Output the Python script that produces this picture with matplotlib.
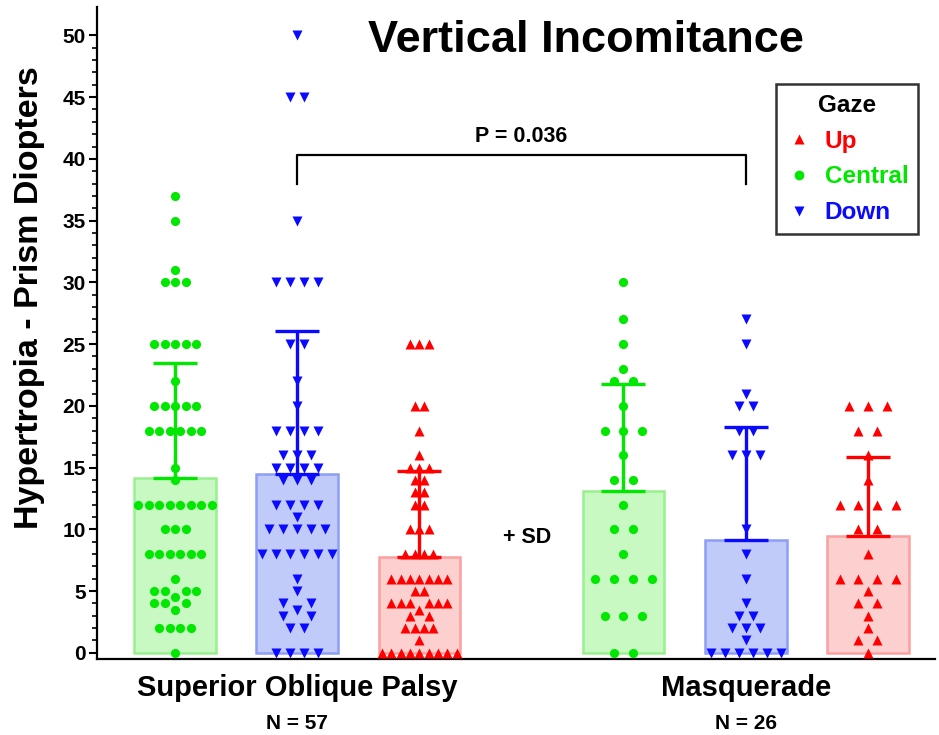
import numpy as np
import matplotlib
matplotlib.use('Agg')
import matplotlib.pyplot as plt
from matplotlib.lines import Line2D

plt.rcParams['font.family'] = ['Liberation Sans', 'DejaVu Sans']
plt.rcParams['font.weight'] = 'bold'

# valores: valor e quantidade de pacientes
sop_central_v = [37, 35, 31, 30, 25, 22, 20, 18, 15, 14, 12, 10, 8, 6, 5, 4.5, 4, 3.5, 2, 0]
sop_central_n = [1, 1, 1, 3, 5, 1, 5, 6, 1, 1, 8, 3, 6, 1, 4, 1, 3, 1, 4, 1]
sop_down_v = [50, 45, 35, 30, 25, 22, 20, 18, 16, 15, 14, 12, 11, 10, 8, 6, 5, 4, 3.5, 3, 2, 0]
sop_down_n = [1, 2, 1, 4, 2, 1, 1, 4, 3, 4, 3, 4, 1, 5, 6, 1, 1, 2, 1, 2, 2, 4]
sop_up_v = [25, 20, 18, 16, 15, 14, 13, 12, 10, 8, 6, 5, 4, 3.5, 3, 2, 1, 0]
sop_up_n = [3, 2, 1, 1, 3, 2, 2, 2, 3, 4, 7, 2, 6, 1, 2, 4, 1, 9]
masq_central_v = [30, 27, 25, 23, 22, 20, 18, 16, 14, 12, 10, 8, 6, 3, 0]
masq_central_n = [1, 1, 1, 1, 2, 1, 3, 1, 2, 1, 2, 1, 4, 3, 2]
masq_down_v = [27, 25, 21, 20, 18, 16, 10, 8, 6, 4, 3, 2, 1, 0]
masq_down_n = [1, 1, 1, 2, 2, 3, 1, 1, 1, 1, 2, 3, 1, 6]
masq_up_v = [20, 18, 16, 14, 12, 10, 8, 6, 5, 4, 3, 2, 1, 0]
masq_up_n = [3, 2, 1, 1, 4, 2, 1, 4, 1, 2, 1, 1, 2, 1]

grupos = ['Superior Oblique Palsy', 'Masquerade']
n_labels = ['N = 57', 'N = 26']
gaze = ['Central', 'Down', 'Up']
p_text = 'P = 0.036'

dados = [
    [np.repeat(sop_central_v, sop_central_n), np.repeat(sop_down_v, sop_down_n), np.repeat(sop_up_v, sop_up_n)],
    [np.repeat(masq_central_v, masq_central_n), np.repeat(masq_down_v, masq_down_n), np.repeat(masq_up_v, masq_up_n)],
]

# estilos
cores = {'Central': '#00e800', 'Down': '#0a0aff', 'Up': '#ff0000'}
preench = {'Central': '#c8f9c2', 'Down': '#c0cbf9', 'Up': '#fdd0d0'}
bordas = {'Central': '#98f08e', 'Down': '#8c9ef5', 'Up': '#fb9f9f'}
marcas = {'Central': 'o', 'Down': 'v', 'Up': '^'}
gap = 3.67
larg = 0.67

fig = plt.figure(figsize=(9.39, 7.35), dpi=100)
ax = fig.add_axes([97/939, 1-659/735, (935-97)/939, (659-7)/735])
ax.set_xlim(-0.64, 6.22)
ax.set_ylim(-0.5, 52.3)

# escala px por unidade
p0 = ax.transData.transform((0, 0))
p1 = ax.transData.transform((1, 1))
sx, sy = p1[0]-p0[0], p1[1]-p0[1]


def swarm(vals, x0, d, thr):
    # distribui os pontos na horizontal (estilo prism)
    uniq, cnt = np.unique(vals, return_counts=True)
    ordem = sorted(range(len(uniq)), key=lambda k: (cnt[k], -uniq[k]))
    ocup = []
    xs, ys = [], []
    for k in ordem:
        v, n = uniq[k], cnt[k]
        yp = v*sy

        def livre(xp):
            return all((xp-a)**2 + (yp-b)**2 >= thr**2 for a, b in ocup)
        cand = [(i-(n-1)/2)*d for i in range(n)]
        if all(livre(c) for c in cand):
            esc = cand
        else:
            esc = []
            slots = sorted([s*d/2 for s in range(-24, 25)], key=lambda s: (abs(s), s))
            for s in slots:
                if len(esc) == n:
                    break
                if livre(s) and all(abs(s-e) >= d*0.99 for e in esc):
                    esc.append(s)
        for c in esc:
            ocup.append((c, yp))
            xs.append(x0 + c/sx)
            ys.append(v)
    return xs, ys


centros = []
for g in range(2):
    for i, gz in enumerate(gaze):
        x0 = g*gap + i
        vals = dados[g][i]
        m = vals.mean()
        sd = vals.std(ddof=1)
        ax.bar(x0, m, width=larg, color=preench[gz], edgecolor=bordas[gz], linewidth=1.8, zorder=1)
        ax.errorbar(x0, m, yerr=[[0], [sd]], fmt='none', ecolor=cores[gz],
                    elinewidth=2.4, capsize=15.5, capthick=2.4, zorder=2)
        maxc = np.unique(vals, return_counts=True)[1].max()
        d = min(18.7, 84/maxc)
        xs, ys = swarm(vals, x0, d, min(0.95*d, 11))
        ms = 6.6 if marcas[gz] == 'o' else 7.0
        ax.plot(xs, ys, ls='none', marker=marcas[gz], ms=ms, color=cores[gz],
                mec='none', zorder=3, clip_on=False)
    centros.append(g*gap + 1)

# colchete com valor de P
yb, yl = 40.3, 38.0
ax.plot([centros[0], centros[0], centros[1], centros[1]], [yl, yb, yb, yl], color='black', lw=1.6, zorder=2)
ax.text(sum(centros)/2, yb+0.7, p_text, ha='center', va='bottom', fontsize=15.5, fontweight='bold')
ax.text(2.88, 9.3, '+ SD', ha='center', va='center', fontsize=15.5, fontweight='bold')

# eixos
ax.spines['top'].set_visible(False)
ax.spines['right'].set_visible(False)
ax.spines['left'].set_linewidth(1.6)
ax.spines['bottom'].set_linewidth(1.6)
ax.set_yticks(np.arange(0, 51, 5))
ax.set_yticks(np.arange(0, 51, 1), minor=True)
ax.tick_params(axis='y', which='major', length=6, width=1.5, labelsize=15, pad=2)
ax.tick_params(axis='y', which='minor', length=3.5, width=1.2)
for t in ax.get_yticklabels():
    t.set_fontweight('bold')
ax.set_xticks(centros)
ax.set_xticklabels(grupos, fontsize=21, fontweight='bold')
ax.tick_params(axis='x', length=0, pad=11)
for c, nl in zip(centros, n_labels):
    ax.text(c, -5.7, nl, ha='center', va='center', fontsize=15, fontweight='bold')

fig.text(30/939, 1-298/735, 'Hypertropia - Prism Diopters', rotation=90,
         ha='center', va='center', fontsize=24.5, fontweight='bold')
fig.text(586/939, 1-40/735, 'Vertical Incomitance', ha='center', va='center',
         fontsize=32.5, fontweight='bold')

# legenda
ordem_leg = ['Up', 'Central', 'Down']
hs = [Line2D([], [], ls='none', marker=marcas[k], color=cores[k], mec='none', ms=7) for k in ordem_leg]
leg = ax.legend(hs, ordem_leg, title='Gaze', loc='upper right', bbox_to_anchor=(0.98, 0.882),
                borderaxespad=0, fontsize=17.5, title_fontsize=17.5, frameon=True,
                fancybox=False, edgecolor='black', handlelength=1.1, labelspacing=0.53,
                borderpad=0.4, handletextpad=0.5)
leg.get_frame().set_linewidth(1.8)
leg.get_title().set_fontweight('bold')
for t, k in zip(leg.get_texts(), ordem_leg):
    t.set_color(cores[k])
    t.set_fontweight('bold')

fig.savefig('out.png', dpi=100)
